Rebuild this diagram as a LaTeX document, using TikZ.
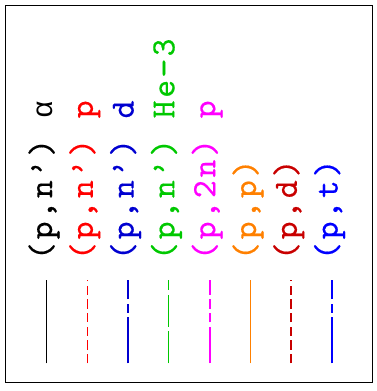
\documentclass[tikz,border=0pt]{standalone}
\usepackage{fontspec}
\newfontfamily\grk{Liberation Mono}
\newfontfamily\lmm{lmmono10-regular.otf}[LetterSpace=8.2,FakeBold=0.4]
\begin{document}
\begin{tikzpicture}[x=1pt,y=-1pt,
  lbl/.style={rotate=90,anchor=base west,inner sep=0pt,outer sep=0pt,
    font=\lmm\fontsize{34}{34}\selectfont},
  sample/.style={line width=1.4pt,line cap=butt},
  dashA/.style={dash pattern=on 9.3pt off 4.4pt},
  dashB/.style={dash pattern=on 46pt off 4.7pt on 8.7pt off 4.7pt},
  dashC/.style={dash pattern=on 32pt off 4.7pt},
  dashD/.style={dash pattern=on 36.7pt off 4.3pt on 9.3pt off 4.3pt on 9.3pt off 4.3pt},
  frame/.style={line width=1.5pt}]
\definecolor{cgreen}{HTML}{00C800}
\definecolor{cmag}{HTML}{FF00FF}
\definecolor{corange}{HTML}{FF8000}
\definecolor{cdred}{HTML}{C80000}
\definecolor{cblueA}{HTML}{0000D0}
\definecolor{cblueB}{HTML}{0000FF}
\useasboundingbox (0,0) rectangle (377,391);
\node[draw,frame,minimum width=366.6pt,minimum height=377.4pt,inner sep=0pt] (box) at (189,194) {};
% labels
\node[lbl,text=black]   (t1) at (52,260)    {(p,n’) {\grk\fontsize{29}{29}\selectfont α}};
\node[lbl,text=red]     (t2) at (92.8,260)  {(p,n’) p};
\node[lbl,text=cblueA]  (t3) at (133.6,260) {(p,n’) d};
\node[lbl,text=cgreen]  (t4) at (174.4,260) {(p,n’) He\char"2212 3};
\node[lbl,text=cmag]    (t5) at (215.2,260) {(p,2n) p};
\node[lbl,text=corange] (t6) at (256,260)   {(p,p)};
\node[lbl,text=cdred]   (t7) at (296.8,260) {(p,d)};
\node[lbl,text=cblueB]  (t8) at (337.6,260) {(p,t)};
% line samples
\foreach \n/\x in {1/46.5,2/87.5,3/128,4/168.5,5/210,6/250.5,7/291,8/332}{
  \coordinate (b\n) at (\x,363.3);
  \coordinate (e\n) at (\x,280.3);
}
\draw[sample,black] (b1) -- (e1);
\draw[sample,red,dashA] (b2) -- (e2);
\draw[sample,cblueA,dashB] (b3) -- (e3);
\draw[sample,cgreen,dashC] (b4) -- (e4);
\draw[sample,cmag,dashD] (b5) -- (e5);
\draw[sample,corange] (b6) -- (e6);
\draw[sample,cdred,dashA] (b7) -- (e7);
\draw[sample,cblueB,dashB] (b8) -- (e8);
\end{tikzpicture}
\end{document}
